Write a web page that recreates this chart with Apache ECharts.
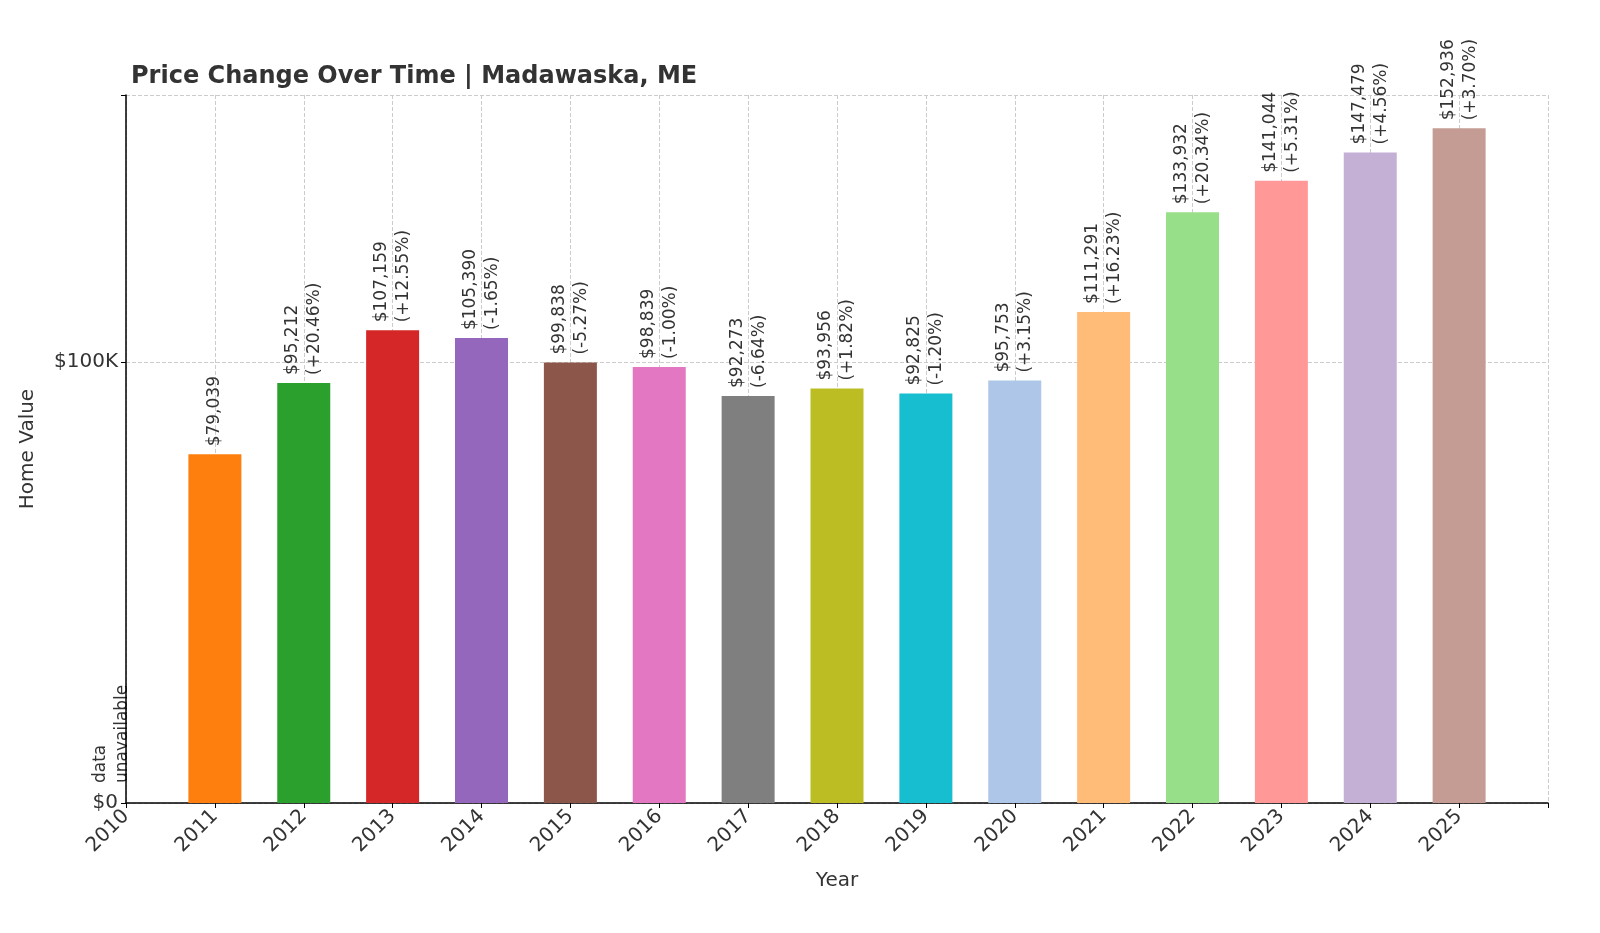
<!DOCTYPE html>
<html><head><meta charset="utf-8">
<script src="https://cdn.jsdelivr.net/npm/echarts@6/dist/echarts.min.js"></script>
<style>html,body{margin:0;padding:0;background:#fff}#c{width:1600px;height:933px}</style>
</head><body><div id="c"></div>
<script>
const years = [2011,2012,2013,2014,2015,2016,2017,2018,2019,2020,2021,2022,2023,2024,2025];
const values = [79039,95212,107159,105390,99838,98839,92273,93956,92825,95753,111291,133932,141044,147479,152936];
const changes = [null,'+20.46%','+12.55%','-1.65%','-5.27%','-1.00%','-6.64%','+1.82%','-1.20%','+3.15%','+16.23%','+20.34%','+5.31%','+4.56%','+3.70%'];
const colors = ['#ff7f0e','#2ca02c','#d62728','#9467bd','#8c564b','#e377c2','#7f7f7f','#bcbd22','#17becf','#aec7e8','#ffbb78','#98df8a','#ff9896','#c5b0d5','#c49c94'];
const font = 'DejaVu Sans';
const chart = echarts.init(document.getElementById('c'));
chart.setOption({
  animation:false,
  textStyle:{fontFamily:font},
  title:{text:'Price Change Over Time | Madawaska, ME',left:126,top:60,textStyle:{fontFamily:font,fontSize:24,fontWeight:'bold',color:'#333'}},
  grid:{left:126,right:52,top:95,bottom:130},
  xAxis:{type:'value',min:2010,max:2026,interval:1,name:'Year',nameLocation:'middle',nameGap:68,
    nameTextStyle:{fontSize:20,color:'#333',fontFamily:font},
    axisLine:{show:true,lineStyle:{color:'#000',width:1.5}},axisTick:{show:true,lineStyle:{color:'#000'}},
    axisLabel:{rotate:45,fontSize:20,color:'#333',margin:10,formatter:v=>v>2025?'':String(v)},
    splitLine:{show:true,lineStyle:{type:'dashed',color:'#ccc'}}},
  yAxis:{type:'value',min:0,max:160500,interval:100000,name:'Home Value',nameLocation:'middle',nameGap:88,
    nameTextStyle:{fontSize:20,color:'#333',fontFamily:font},
    axisLine:{show:true,lineStyle:{color:'#000',width:1.5}},axisTick:{show:true,lineStyle:{color:'#000'}},
    axisLabel:{fontSize:20,color:'#333',formatter:v=>v===0?'$0':(v<=100000?'$'+v/1000+'K':'')},
    splitLine:{show:true,lineStyle:{type:'dashed',color:'#ccc'}}},
  series:[{type:'bar',barWidth:53,
    data:years.map((y,i)=>({value:[y,values[i]],itemStyle:{color:colors[i]}})),
    label:{show:true,position:'top',rotate:90,align:'left',verticalAlign:'middle',distance:8,
      fontSize:17,color:'#333',lineHeight:22,
      formatter:p=>{const i=p.dataIndex;const s='$'+values[i].toLocaleString('en-US');return changes[i]?s+'\n('+changes[i]+')':s;}}}
  ]
});
const pt = chart.convertToPixel({gridIndex:0},[2010,0]);
chart.setOption({graphic:[{type:'text',x:pt[0]-14,y:pt[1]-20,rotation:Math.PI/2,
  style:{text:'data\nunavailable',fill:'#333',fontSize:17,fontFamily:font,lineHeight:22,align:'left',verticalAlign:'middle'}}]});
</script></body></html>
